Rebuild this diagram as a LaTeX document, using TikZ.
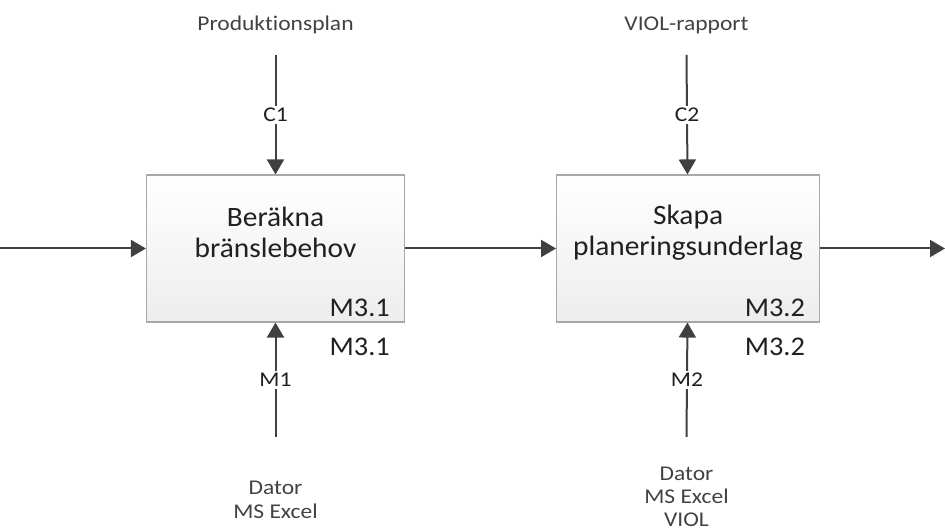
\documentclass[tikz,border=0pt]{standalone}
\usepackage{fontspec}
\setmainfont[FakeStretch=1.05, Ligatures=NoCommon]{Carlito}
\newfontfamily\lblfont[FakeStretch=1.12, Ligatures=NoCommon]{Carlito}
\usetikzlibrary{arrows.meta,positioning}
\definecolor{IdefInk}{HTML}{404040}
\definecolor{IdefEdge}{HTML}{A8A8A8}
\definecolor{IdefText}{HTML}{202020}

\begin{document}
\begin{tikzpicture}[
  x=1pt, y=1pt,
  actbox/.style={
    draw=IdefEdge,
    line width=1.1pt,
    top color=white,
    bottom color=black!7,
    minimum width=258pt,
    minimum height=147pt
  },
  acttitle/.style={align=center, text=IdefText, font=\fontsize{28}{31}\selectfont},
  actid/.style={text=IdefText, inner sep=0pt, font=\fontsize{27}{30}\selectfont},
  sidetext/.style={align=center, text=IdefText!85, font=\lblfont\fontsize{21}{23.5}\selectfont},
  arrowlbl/.style={fill=white, inner sep=2pt, text=IdefText, font=\lblfont\fontsize{21}{23}\selectfont},
  flowarrow/.style={-{Triangle[length=15pt,width=17pt]}, line width=2pt, draw=IdefInk}
]
\useasboundingbox (0,0) rectangle (945,532);
% activities
\node[actbox] (berakna) at (275.5,283.5) {};
\node[actbox, minimum width=263pt, right=151pt of berakna] (skapa) {};
\node[acttitle] (beraknatitle) at ([yshift=16pt]berakna.center) {Beräkna\\bränslebehov};
\node[acttitle] (skapatitle) at ([yshift=16pt]skapa.center) {Skapa\\planeringsunderlag};
\node[actid, anchor=south east] (beraknaid) at ([shift={(-15pt,6pt)}]berakna.south east) {M3.1};
\node[actid, anchor=south east] (skapaid) at ([shift={(-15pt,6pt)}]skapa.south east) {M3.2};
\node[actid, anchor=north east] (beraknaref) at ([shift={(-15pt,-15pt)}]berakna.south east) {M3.1};
\node[actid, anchor=north east] (skaparef) at ([shift={(-15pt,-15pt)}]skapa.south east) {M3.2};
% controls
\node[sidetext] (prodplan) at (275.5,507) {Produktionsplan};
\node[sidetext] (violrapp) at (686.5,507) {VIOL-rapport};
\coordinate (c1top) at (275.5,477);
\coordinate (c2top) at (686.5,477);
% mechanisms
\node[sidetext] (mek1) at (275.5,32) {Dator\\MS Excel};
\node[sidetext, font=\lblfont\fontsize{21}{23}\selectfont] (mek2) at (686.5,35) {Dator\\MS Excel\\VIOL};
\coordinate (m1bot) at (275.5,95);
\coordinate (m2bot) at (686.5,95);
% inputs and outputs
\coordinate (inleft) at (0,283.5);
\coordinate (outright) at (945,283.5);
\draw[flowarrow] (inleft) -- (berakna);
\draw[flowarrow] (berakna) -- (skapa);
\draw[flowarrow] (skapa) -- (outright);
\draw[flowarrow] (c1top) -- node[arrowlbl] {C1} (berakna);
\draw[flowarrow] (c2top) -- node[arrowlbl] {C2} (skapa);
\draw[flowarrow] (m1bot) -- node[arrowlbl] {M1} (berakna);
\draw[flowarrow] (m2bot) -- node[arrowlbl] {M2} (skapa);
\end{tikzpicture}
\end{document}
